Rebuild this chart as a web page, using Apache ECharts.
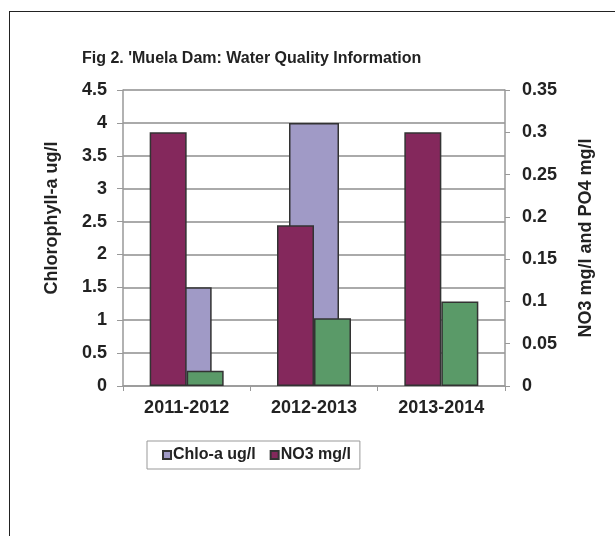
<!DOCTYPE html>
<html>
<head>
<meta charset="utf-8">
<script src="https://cdn.jsdelivr.net/npm/echarts@6/dist/echarts.min.js"></script>
<style>
html,body{margin:0;padding:0;background:#fff;}
#frame{position:absolute;left:9px;top:11px;width:606px;height:525px;border-top:1px solid #222;border-left:1px solid #222;}
#main{position:absolute;left:0;top:0;width:615px;height:536px;}
</style>
</head>
<body>
<div id="frame"></div>
<div id="main"></div>
<script>
// data
var years = ['2011-2012', '2012-2013', '2013-2014'];
var chloA = [1.5, 4.0, null];      // ug/l, left axis
var no3 = [0.3, 0.19, 0.3];        // mg/l, right axis
var po4 = [0.018, 0.08, 0.1];      // mg/l, right axis

var FONT = 'Liberation Sans';
var bold = {fontFamily: FONT, fontWeight: 'bold', fontSize: 18, color: '#222'};

var chart = echarts.init(document.getElementById('main'));
chart.setOption({
	animation: false,
	title: {
		text: "Fig 2. 'Muela Dam: Water Quality Information",
		left: 77,
		top: 46,
		textStyle: {fontFamily: FONT, fontWeight: 'bold', fontSize: 16, color: '#222'}
	},
	legend: {
		data: ['Chlo-a ug/l', 'NO3 mg/l'],
		left: 147,
		top: 441,
		padding: [6, 9, 6, 15],
		itemGap: 14,
		itemWidth: 8,
		itemHeight: 8,
		icon: 'rect',
		borderColor: '#999',
		borderWidth: 1,
		textStyle: {fontFamily: FONT, fontWeight: 'bold', fontSize: 16, color: '#222', padding: [0, 0, 0, -3]}
	},
	grid: {left: 123, right: 110, top: 90, bottom: 150},
	xAxis: [{
		type: 'category',
		data: years,
		axisLine: {lineStyle: {color: '#999', width: 1.5}},
		axisTick: {show: true, length: 5, lineStyle: {color: '#999'}},
		axisLabel: Object.assign({margin: 13}, bold),
		splitLine: {show: false}
	}, {
		type: 'category',
		data: years,
		show: false
	}],
	yAxis: [{
		type: 'value',
		min: 0,
		max: 4.5,
		interval: 0.5,
		name: 'Chlorophyll-a ug/l',
		nameLocation: 'middle',
		nameRotate: 90,
		nameGap: 62,
		nameTextStyle: Object.assign({padding: [0, 0, 0, 40]}, bold),
		axisLine: {show: true, lineStyle: {color: '#999', width: 1.5}},
		axisTick: {show: true, length: 6, lineStyle: {color: '#999'}},
		axisLabel: Object.assign({margin: 16}, bold),
		splitLine: {show: true, lineStyle: {color: '#aaa', width: 2}}
	}, {
		type: 'value',
		min: 0,
		max: 0.35,
		interval: 0.05,
		name: 'NO3 mg/l and PO4 mg/l',
		nameLocation: 'middle',
		nameRotate: 90,
		nameGap: 72,
		nameTextStyle: bold,
		axisLine: {show: true, lineStyle: {color: '#999', width: 1.5}},
		axisTick: {show: true, length: 5, lineStyle: {color: '#999'}},
		axisLabel: Object.assign({margin: 17}, bold),
		splitLine: {show: false}
	}],
	series: [{
		name: 'Chlo-a ug/l',
		type: 'bar',
		xAxisIndex: 0,
		yAxisIndex: 0,
		barWidth: 50,
		z: 1,
		itemStyle: {color: '#a09ac6', borderColor: '#333', borderWidth: 1.5},
		data: chloA
	}, {
		name: 'NO3 mg/l',
		type: 'bar',
		xAxisIndex: 1,
		yAxisIndex: 1,
		barWidth: 37,
		barGap: 0,
		z: 3,
		itemStyle: {color: '#84285c', borderColor: '#333', borderWidth: 1.5},
		data: no3
	}, {
		name: 'PO4 mg/l',
		type: 'bar',
		xAxisIndex: 1,
		yAxisIndex: 1,
		barWidth: 37,
		barGap: 0,
		z: 3,
		itemStyle: {color: '#5a9a68', borderColor: '#333', borderWidth: 1.5},
		data: po4
	}]
});
</script>
</body>
</html>
